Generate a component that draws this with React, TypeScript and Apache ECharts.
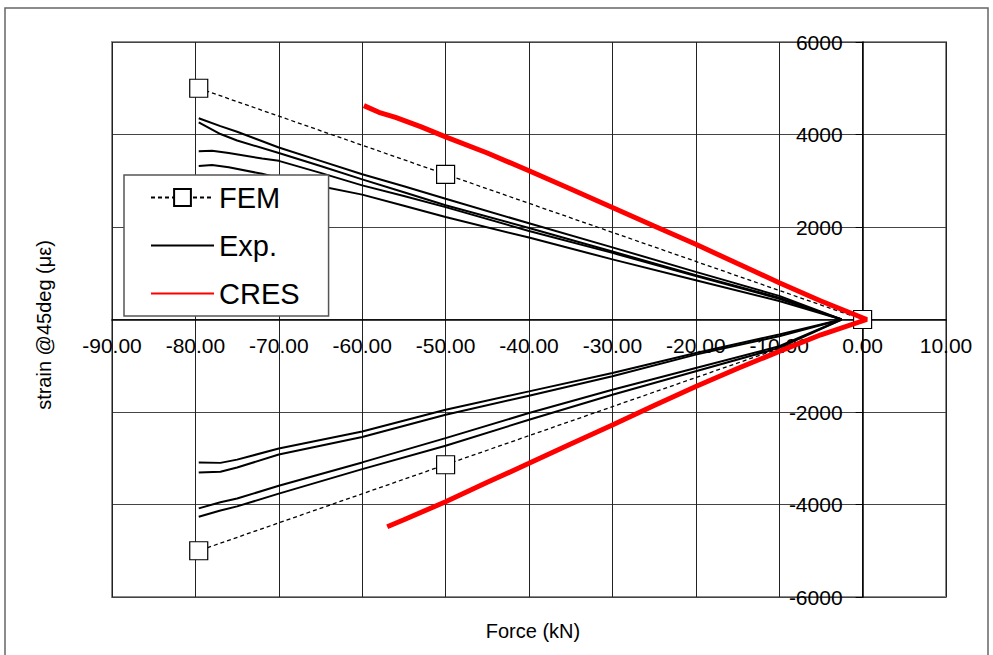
import React, { useEffect, useRef } from 'react';
import * as echarts from 'echarts';

// ---- data ----
const xMin = -90;
const xMax = 10;
const xStep = 10;
const yMin = -6000;
const yMax = 6000;
const yStep = 2000;

const femPoints: number[][] = [
  [-79.6, 5000], [-50, 3140], [0, 0], [-50, -3140], [-79.6, -5000],
];

const expUpper1: number[][] = [
  [-79.6, 4350], [-77, 4180], [-75, 4060], [-70, 3720], [-65, 3430], [-60, 3140],
  [-55, 2880], [-50, 2610], [-40, 2080], [-30, 1560], [-20, 1030], [-10, 510], [-2.5, 0],
];
const expUpper2: number[][] = [
  [-79.6, 4260], [-77, 4010], [-75, 3870], [-70, 3600], [-65, 3320], [-60, 3030],
  [-55, 2750], [-50, 2470], [-40, 1980], [-30, 1470], [-20, 960], [-10, 470], [-2.5, 0],
];
const expUpper3: number[][] = [
  [-79.6, 3640], [-78, 3650], [-76, 3600], [-72, 3480], [-70, 3430], [-65, 3170],
  [-60, 2900], [-55, 2670], [-50, 2430], [-40, 1915], [-30, 1440], [-20, 940], [-10, 450], [-2.5, 0],
];
const expUpper4: number[][] = [
  [-79.6, 3320], [-78, 3340], [-76, 3290], [-72, 3150], [-70, 3060], [-65, 2880],
  [-60, 2700], [-55, 2460], [-50, 2215], [-40, 1771], [-30, 1300], [-20, 850], [-10, 400], [-2.5, 0],
];
const expLower1: number[][] = [
  [-79.6, -3094], [-77, -3100], [-75, -3030], [-70, -2790], [-60, -2420], [-50, -1950],
  [-40, -1554], [-30, -1156], [-20, -723], [-10, -325], [-2.5, 0],
];
const expLower2: number[][] = [
  [-79.6, -3310], [-77, -3290], [-75, -3200], [-70, -2920], [-60, -2540], [-50, -2060],
  [-40, -1648], [-30, -1229], [-20, -759], [-10, -361], [-2.5, 0],
];
const expLower3: number[][] = [
  [-79.6, -4083], [-77, -3950], [-75, -3870], [-70, -3596], [-60, -3090], [-50, -2565],
  [-40, -2023], [-30, -1518], [-20, -1048], [-10, -578], [-2.5, 0],
];
const expLower4: number[][] = [
  [-79.6, -4265], [-77, -4130], [-75, -4040], [-70, -3765], [-60, -3235], [-50, -2730],
  [-40, -2168], [-30, -1626], [-20, -1120], [-10, -614], [-2.5, 0],
];

const cresUpper: number[][] = [
  [-59.8, 4625], [-58, 4480], [-56, 4370], [-53, 4170], [-50, 3950], [-45, 3600],
  [-40, 3216], [-35, 2820], [-30, 2421], [-25, 2020], [-20, 1626], [-15, 1210],
  [-10, 796], [-5, 400], [0.5, 0],
];
const cresLower: number[][] = [
  [0.5, 0], [-5, -330], [-10, -690], [-15, -1060], [-20, -1450], [-25, -1860],
  [-30, -2280], [-35, -2690], [-40, -3110], [-45, -3520], [-50, -3940], [-55, -4330], [-57, -4480],
];

const legendNames = ['FEM', 'Exp.', 'CRES'];
const xTitle = 'Force (kN)';
const yTitle = 'strain @45deg (με)';

const FONT = '"Liberation Sans", Arial, sans-serif';

// layout
const W = 993;
const H = 655;
const G_LEFT = 112;
const G_RIGHT = 47;
const G_TOP = 42;
const G_BOTTOM = 58;

export default function App() {
  const ref = useRef<HTMLDivElement>(null);

  useEffect(() => {
    if (!ref.current) return;
    const chart = echarts.init(ref.current, undefined, { renderer: 'svg' });

    const plotW = W - G_LEFT - G_RIGHT;
    const plotH = H - G_TOP - G_BOTTOM;
    // shift the axes (with their labels) so that they cross at (0, 0)
    const yAxisOffset = -((0 - xMin) / (xMax - xMin)) * plotW;
    const xAxisOffset = -((0 - yMin) / (yMax - yMin)) * plotH;

    const expSets = [expUpper1, expUpper2, expUpper3, expUpper4, expLower1, expLower2, expLower3, expLower4];
    const expSeries = expSets.map((d) => ({
      name: legendNames[1],
      type: 'line',
      data: d,
      symbol: 'none',
      lineStyle: { color: '#000', width: 2, type: 'solid' },
      itemStyle: { color: '#000' },
      z: 3,
    }));

    const option: any = {
      animation: false,
      backgroundColor: '#fff',
      textStyle: { fontFamily: FONT, color: '#000' },
      grid: {
        left: G_LEFT, right: G_RIGHT, top: G_TOP, bottom: G_BOTTOM,
        show: true, borderColor: '#8a8a8a', borderWidth: 2, backgroundColor: 'transparent',
      },
      legend: {
        orient: 'vertical',
        left: 124,
        top: 175,
        padding: [8, 29, 8, 26],
        itemGap: 19,
        itemWidth: 63,
        itemHeight: 21,
        borderColor: '#555',
        borderWidth: 1.5,
        backgroundColor: '#fff',
        textStyle: { fontFamily: FONT, fontSize: 29, color: '#000' },
        data: [
          { name: legendNames[0] },
          { name: legendNames[1], itemStyle: { opacity: 0 } },
          { name: legendNames[2], itemStyle: { opacity: 0 } },
        ],
        selectedMode: false,
        z: 10,
      },
      xAxis: {
        type: 'value',
        position: 'bottom',
        offset: xAxisOffset,
        min: xMin, max: xMax, interval: xStep,
        axisLine: { onZero: false, lineStyle: { color: '#000', width: 1.5 } },
        axisTick: { show: false },
        axisLabel: {
          formatter: (v: number) => v.toFixed(2),
          fontSize: 21, fontFamily: FONT, color: '#000', margin: 15, interval: 0,
          showMinLabel: true, showMaxLabel: true,
        },
        splitLine: { show: true, lineStyle: { color: '#222', width: 1 } },
      },
      yAxis: {
        type: 'value',
        position: 'left',
        offset: yAxisOffset,
        min: yMin, max: yMax, interval: yStep,
        axisLine: { onZero: false, lineStyle: { color: '#000', width: 1.5 } },
        axisTick: { show: true, length: 7, lineStyle: { color: '#000' } },
        axisLabel: {
          formatter: (v: number) => (v === 0 ? '' : String(v)),
          fontSize: 21, fontFamily: FONT, color: '#000', margin: 20,
          showMinLabel: true, showMaxLabel: true,
        },
        splitLine: { show: true, lineStyle: { color: '#444', width: 1 } },
      },
      graphic: [
        {
          type: 'rect', z: -10, silent: true,
          shape: { x: 5, y: 8, width: 983, height: 680 },
          style: { fill: 'none', stroke: '#666', lineWidth: 1.5 },
        },
        {
          type: 'text', x: 533, y: 631,
          style: { text: xTitle, font: `20px ${FONT}`, fill: '#000', textAlign: 'center', textVerticalAlign: 'middle' },
        },
        {
          type: 'text', x: 44, y: 325, rotation: Math.PI / 2,
          style: { text: yTitle, font: `20px ${FONT}`, fill: '#000', textAlign: 'center', textVerticalAlign: 'middle' },
        },
      ],
      series: [
        ...expSeries,
        {
          name: legendNames[0],
          type: 'line',
          data: femPoints,
          symbol: 'rect',
          symbolSize: 18,
          showSymbol: true,
          lineStyle: { color: '#000', width: 1.3, type: [4, 3] },
          itemStyle: { color: '#fff', borderColor: '#000', borderWidth: 1.2 },
          z: 4,
        },
        {
          name: legendNames[2],
          type: 'line',
          data: [...cresUpper, ...cresLower],
          symbol: 'none',
          lineStyle: { color: '#ff0000', width: 5 },
          itemStyle: { color: '#ff0000' },
          z: 5,
        },
      ],
    };

    chart.setOption(option);
    return () => chart.dispose();
  }, []);

  return (
    <div
      ref={ref}
      style={{ position: 'fixed', left: 0, top: 0, width: W, height: H, background: '#fff' }}
    />
  );
}
